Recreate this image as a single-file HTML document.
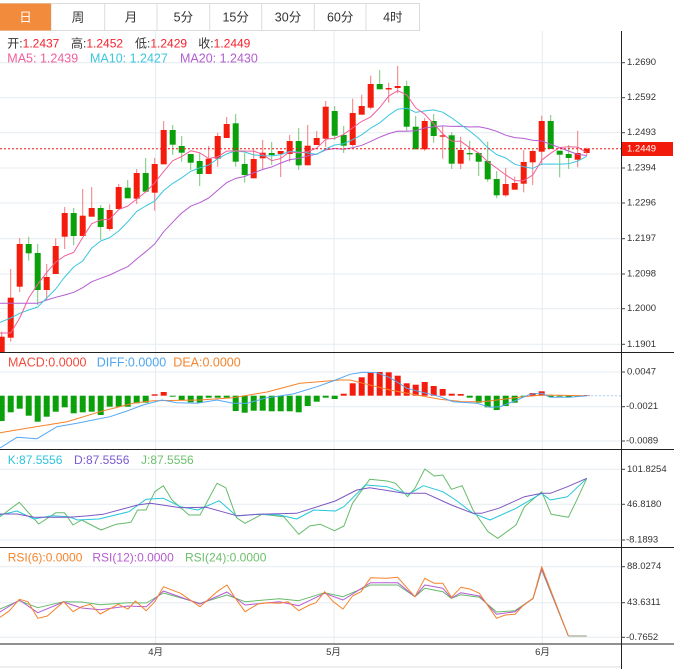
<!DOCTYPE html>
<html><head><meta charset="utf-8"><style>
html,body{margin:0;padding:0;background:#fff;}
svg{display:block;font-family:"Liberation Sans","Noto Sans CJK SC",sans-serif;}
</style></head><body>
<svg width="674" height="669" viewBox="0 0 674 669" xmlns="http://www.w3.org/2000/svg">
<rect x="0" y="0" width="674" height="669" fill="#fff"/>
<!-- tabs -->
<g stroke="#dcdcdc" stroke-width="1" fill="#fff">
<rect x="0.5" y="3.5" width="419" height="27"/>
<line x1="51" y1="3.5" x2="51" y2="30.5"/><line x1="104.7" y1="3.5" x2="104.7" y2="30.5"/><line x1="157" y1="3.5" x2="157" y2="30.5"/><line x1="209.7" y1="3.5" x2="209.7" y2="30.5"/><line x1="261.7" y1="3.5" x2="261.7" y2="30.5"/><line x1="314.3" y1="3.5" x2="314.3" y2="30.5"/><line x1="366" y1="3.5" x2="366" y2="30.5"/>
</g>
<rect x="0" y="3.5" width="51" height="27" fill="#f38b3c"/>
<g font-size="12.5" text-anchor="middle" dominant-baseline="central" fill="#333">
<text x="25.5" y="17.5" fill="#fff">日</text><text x="78" y="17.5">周</text><text x="131" y="17.5">月</text><text x="183.4" y="17.5">5分</text><text x="235.7" y="17.5">15分</text><text x="288" y="17.5">30分</text><text x="340.2" y="17.5">60分</text><text x="392.8" y="17.5">4时</text>
</g>
<!-- gridlines -->
<g stroke="#e4ecf1" stroke-width="1">
<line x1="0" y1="62.7" x2="621" y2="62.7"/><line x1="0" y1="97.7" x2="621" y2="97.7"/><line x1="0" y1="132.7" x2="621" y2="132.7"/><line x1="0" y1="168" x2="621" y2="168"/><line x1="0" y1="203" x2="621" y2="203"/><line x1="0" y1="238.7" x2="621" y2="238.7"/><line x1="0" y1="274" x2="621" y2="274"/><line x1="0" y1="308.7" x2="621" y2="308.7"/><line x1="0" y1="344.3" x2="621" y2="344.3"/>
<line x1="0" y1="372" x2="621" y2="372"/><line x1="0" y1="406.7" x2="621" y2="406.7"/><line x1="0" y1="441" x2="621" y2="441"/>
<line x1="0" y1="469.3" x2="621" y2="469.3"/><line x1="0" y1="504.3" x2="621" y2="504.3"/><line x1="0" y1="540" x2="621" y2="540"/>
<line x1="0" y1="566.7" x2="621" y2="566.7"/><line x1="0" y1="602.7" x2="621" y2="602.7"/><line x1="0" y1="637.3" x2="621" y2="637.3"/>
<line x1="155.6" y1="31" x2="155.6" y2="644"/><line x1="334" y1="31" x2="334" y2="644"/><line x1="542.3" y1="31" x2="542.3" y2="644"/>
</g>
<!-- info text -->
<g font-size="12" dominant-baseline="central">
<text x="7.3" y="43.3" fill="#333">开:<tspan fill="#f5222d">1.2437</tspan></text>
<text x="71" y="43.3" fill="#333">高:<tspan fill="#f5222d">1.2452</tspan></text>
<text x="135" y="43.3" fill="#333">低:<tspan fill="#f5222d">1.2429</tspan></text>
<text x="198.3" y="43.3" fill="#333">收:<tspan fill="#f5222d">1.2449</tspan></text>
<text x="7.3" y="58.3" fill="#f0609a" font-size="12.5">MA5: 1.2439</text>
<text x="90" y="58.3" fill="#3cc6e0" font-size="12.5">MA10: 1.2427</text>
<text x="180" y="58.3" fill="#b35dd0" font-size="12.5">MA20: 1.2430</text>
</g>
<!-- candles: red -->
<g stroke="#f47c7c" stroke-width="1">
<line x1="1.7" y1="331.7" x2="1.7" y2="352"/><line x1="10.7" y1="269" x2="10.7" y2="341.7"/><line x1="19.7" y1="238" x2="19.7" y2="292"/><line x1="46.7" y1="264" x2="46.7" y2="300"/><line x1="55.7" y1="238.3" x2="55.7" y2="274"/><line x1="64.7" y1="207" x2="64.7" y2="249"/><line x1="82.7" y1="189" x2="82.7" y2="236"/><line x1="91.7" y1="187" x2="91.7" y2="216.7"/><line x1="109.7" y1="204.3" x2="109.7" y2="230.7"/><line x1="118.7" y1="184" x2="118.7" y2="209"/><line x1="136.7" y1="169" x2="136.7" y2="204"/><line x1="154.7" y1="158" x2="154.7" y2="210.7"/><line x1="163.7" y1="121" x2="163.7" y2="164.3"/><line x1="208.7" y1="146" x2="208.7" y2="174"/><line x1="217.7" y1="132.7" x2="217.7" y2="166.7"/><line x1="226.7" y1="117" x2="226.7" y2="138"/><line x1="253.7" y1="149.3" x2="253.7" y2="178.3"/><line x1="262.7" y1="140" x2="262.7" y2="169"/><line x1="280.7" y1="151" x2="280.7" y2="177"/><line x1="289.7" y1="135" x2="289.7" y2="161.7"/><line x1="307.7" y1="125" x2="307.7" y2="165.3"/><line x1="316.7" y1="131" x2="316.7" y2="145"/><line x1="325.7" y1="101" x2="325.7" y2="147"/><line x1="352.7" y1="98.7" x2="352.7" y2="146.7"/><line x1="361.7" y1="94.7" x2="361.7" y2="114.7"/><line x1="370.7" y1="75.7" x2="370.7" y2="109.3"/><line x1="388.7" y1="82.7" x2="388.7" y2="102.7"/><line x1="397.7" y1="66" x2="397.7" y2="93.3"/><line x1="424.7" y1="118" x2="424.7" y2="150.7"/><line x1="442.7" y1="126.7" x2="442.7" y2="158.7"/><line x1="460.7" y1="136.7" x2="460.7" y2="169"/><line x1="505.7" y1="168" x2="505.7" y2="196.7"/><line x1="514.7" y1="176.7" x2="514.7" y2="189.7"/><line x1="523.7" y1="150" x2="523.7" y2="192.3"/><line x1="532.7" y1="150" x2="532.7" y2="185"/><line x1="541.7" y1="115.7" x2="541.7" y2="165"/><line x1="577.7" y1="130.7" x2="577.7" y2="167.3"/><line x1="586.7" y1="147.6" x2="586.7" y2="155.7"/>
</g>
<g fill="#f41c0c">
<rect x="-1.3" y="336.7" width="6" height="15.3"/><rect x="7.7" y="297.7" width="6" height="40"/><rect x="16.7" y="244" width="6" height="42.7"/><rect x="43.7" y="277" width="6" height="13"/><rect x="52.7" y="246" width="6" height="28"/><rect x="61.7" y="213" width="6" height="23.7"/><rect x="79.7" y="215.7" width="6" height="20.3"/><rect x="88.7" y="208" width="6" height="8.7"/><rect x="106.7" y="210" width="6" height="19"/><rect x="115.7" y="187" width="6" height="22"/><rect x="133.7" y="173" width="6" height="25.7"/><rect x="151.7" y="164" width="6" height="28.7"/><rect x="160.7" y="130" width="6" height="34.3"/><rect x="205.7" y="158.7" width="6" height="15.3"/><rect x="214.7" y="136" width="6" height="22.7"/><rect x="223.7" y="124" width="6" height="14"/><rect x="250.7" y="159" width="6" height="19.3"/><rect x="259.7" y="152.7" width="6" height="5.6"/><rect x="277.7" y="151" width="6" height="3"/><rect x="286.7" y="141" width="6" height="13"/><rect x="304.7" y="145.7" width="6" height="19.6"/><rect x="313.7" y="138" width="6" height="7"/><rect x="322.7" y="106.7" width="6" height="32"/><rect x="349.7" y="113" width="6" height="32"/><rect x="358.7" y="106" width="6" height="8.7"/><rect x="367.7" y="84" width="6" height="23.7"/><rect x="385.7" y="88" width="6" height="1.5"/><rect x="394.7" y="86" width="6" height="2"/><rect x="421.7" y="121" width="6" height="28.3"/><rect x="439.7" y="135.3" width="6" height="1.4"/><rect x="457.7" y="150" width="6" height="13.7"/><rect x="502.7" y="184" width="6" height="11.3"/><rect x="511.7" y="183" width="6" height="6.7"/><rect x="520.7" y="162" width="6" height="21.7"/><rect x="529.7" y="151" width="6" height="11.3"/><rect x="538.7" y="121" width="6" height="30.7"/><rect x="574.7" y="153" width="6" height="6.7"/><rect x="583.7" y="148.7" width="6" height="4.3"/>
</g>
<!-- candles: green -->
<g stroke="#76c876" stroke-width="1">
<line x1="28.7" y1="236.7" x2="28.7" y2="260.7"/><line x1="37.7" y1="244" x2="37.7" y2="305"/><line x1="73.7" y1="208" x2="73.7" y2="245.3"/><line x1="100.7" y1="205" x2="100.7" y2="240"/><line x1="127.7" y1="180" x2="127.7" y2="198.3"/><line x1="145.7" y1="158" x2="145.7" y2="191.7"/><line x1="172.7" y1="125" x2="172.7" y2="154.7"/><line x1="181.7" y1="136" x2="181.7" y2="161.7"/><line x1="190.7" y1="154" x2="190.7" y2="170"/><line x1="199.7" y1="152.7" x2="199.7" y2="186"/><line x1="235.7" y1="114" x2="235.7" y2="166.7"/><line x1="244.7" y1="153" x2="244.7" y2="182.7"/><line x1="271.7" y1="142" x2="271.7" y2="165"/><line x1="298.7" y1="128" x2="298.7" y2="170"/><line x1="334.7" y1="106" x2="334.7" y2="140"/><line x1="343.7" y1="126" x2="343.7" y2="153"/><line x1="379.7" y1="70" x2="379.7" y2="89.3"/><line x1="406.7" y1="80.7" x2="406.7" y2="131"/><line x1="415.7" y1="116" x2="415.7" y2="149.3"/><line x1="433.7" y1="114" x2="433.7" y2="142.7"/><line x1="451.7" y1="132" x2="451.7" y2="169"/><line x1="469.7" y1="140.7" x2="469.7" y2="160.7"/><line x1="478.7" y1="153" x2="478.7" y2="176"/><line x1="487.7" y1="141.7" x2="487.7" y2="181.7"/><line x1="496.7" y1="171" x2="496.7" y2="198.3"/><line x1="550.7" y1="115" x2="550.7" y2="149"/><line x1="559.7" y1="150.7" x2="559.7" y2="177.3"/><line x1="568.7" y1="145" x2="568.7" y2="169"/>
</g>
<g fill="#0aa00a">
<rect x="25.7" y="244" width="6" height="9.3"/><rect x="34.7" y="253" width="6" height="37"/><rect x="70.7" y="213" width="6" height="23"/><rect x="97.7" y="208" width="6" height="19"/><rect x="124.7" y="187.7" width="6" height="10.6"/><rect x="142.7" y="173" width="6" height="18.7"/><rect x="169.7" y="130" width="6" height="14.7"/><rect x="178.7" y="146" width="6" height="6.7"/><rect x="187.7" y="154" width="6" height="8.7"/><rect x="196.7" y="161" width="6" height="13"/><rect x="232.7" y="123.3" width="6" height="38.4"/><rect x="241.7" y="164" width="6" height="11"/><rect x="268.7" y="153" width="6" height="2"/><rect x="295.7" y="141" width="6" height="24.3"/><rect x="331.7" y="111" width="6" height="24.7"/><rect x="340.7" y="135" width="6" height="10.7"/><rect x="376.7" y="84" width="6" height="5.3"/><rect x="403.7" y="86" width="6" height="40.7"/><rect x="412.7" y="126.7" width="6" height="22.6"/><rect x="430.7" y="121" width="6" height="15"/><rect x="448.7" y="135.3" width="6" height="28.4"/><rect x="466.7" y="153" width="6" height="1.4"/><rect x="475.7" y="153" width="6" height="8.7"/><rect x="484.7" y="161" width="6" height="18.3"/><rect x="493.7" y="179" width="6" height="16.3"/><rect x="547.7" y="121" width="6" height="28"/><rect x="556.7" y="150.7" width="6" height="4"/><rect x="565.7" y="154" width="6" height="4"/>
</g>
<!-- MA lines -->
<g fill="none" stroke-width="1" stroke-linejoin="round">
<polyline stroke="#b35dd0" points="0,303.3 1.7,303.3 10.7,303.3 19.7,303.3 28.7,303.3 37.7,303.3 46.7,300 55.7,297.3 64.7,295 73.7,292.3 82.7,287.7 91.7,281.7 100.7,278.3 109.7,275 118.7,270.7 127.7,266.7 136.7,259 145.7,251.7 154.7,244 163.7,231.7 172.7,222.2 181.7,213 190.7,206.2 199.7,202.7 208.7,198 217.7,190.3 226.7,182.6 235.7,178.4 244.7,176.5 253.7,172.7 262.7,169.5 271.7,166.9 280.7,163.1 289.7,159.6 298.7,158.5 307.7,155.9 316.7,154.1 325.7,149.9 334.7,148.5 343.7,149.3 352.7,147.7 361.7,145.3 370.7,141.4 379.7,137.2 388.7,133.6 397.7,131.1 406.7,131.3 415.7,130.7 424.7,128 433.7,126.8 442.7,125.9 451.7,126.4 460.7,126.3 469.7,127 478.7,126.8 487.7,128.5 496.7,131.3 505.7,135.2 514.7,137.6 523.7,138.4 532.7,140.3 541.7,141 550.7,144.3 559.7,147.6 568.7,151.1 577.7,154.4 586.7,155.5"/>
<polyline stroke="#3cc6e0" points="0,322.5 1.7,321.7 10.7,318 19.7,313.3 28.7,310 37.7,307 46.7,298 55.7,289 64.7,277 73.7,267 82.7,260.9 91.7,248.1 100.7,241 109.7,237.6 118.7,231 127.7,221.8 136.7,211.4 145.7,206 154.7,201.1 163.7,190.5 172.7,183.4 181.7,177.8 190.7,171.4 199.7,167.8 208.7,165 217.7,158.8 226.7,153.9 235.7,150.9 244.7,152 253.7,154.9 262.7,155.7 271.7,155.9 280.7,154.7 289.7,151.4 298.7,152.1 307.7,153 316.7,154.4 325.7,148.9 334.7,145 343.7,143.7 352.7,139.7 361.7,134.8 370.7,128.1 379.7,122.9 388.7,115.2 397.7,109.2 406.7,108.1 415.7,112.4 424.7,110.9 433.7,109.9 442.7,112.2 451.7,117.9 460.7,124.5 469.7,131 478.7,138.4 487.7,147.7 496.7,154.6 505.7,158 514.7,164.2 523.7,166.8 532.7,168.4 541.7,164.1 550.7,164 559.7,164.1 568.7,163.7 577.7,161.1 586.7,156.4"/>
<polyline stroke="#f0609a" points="0,333 1.7,333 10.7,333 19.7,318 28.7,298 37.7,284.3 46.7,272.4 55.7,262.1 64.7,255.9 73.7,252.4 82.7,237.5 91.7,223.7 100.7,219.9 109.7,219.3 118.7,209.5 127.7,206.1 136.7,199.1 145.7,192 154.7,182.8 163.7,171.4 172.7,160.7 181.7,156.6 190.7,150.8 199.7,152.8 208.7,158.6 217.7,156.8 226.7,151.1 235.7,150.9 244.7,151.1 253.7,151.1 262.7,154.5 271.7,160.7 280.7,158.5 289.7,151.7 298.7,153 307.7,151.6 316.7,148.2 325.7,139.3 334.7,138.3 343.7,134.4 352.7,127.8 361.7,121.4 370.7,116.9 379.7,107.6 388.7,96.1 397.7,90.7 406.7,94.8 415.7,107.9 424.7,114.2 433.7,123.8 442.7,133.7 451.7,141.1 460.7,141.2 469.7,147.8 478.7,152.9 487.7,161.7 496.7,168.1 505.7,174.9 514.7,180.7 523.7,180.7 532.7,175.1 541.7,160.2 550.7,153.2 559.7,147.5 568.7,146.7 577.7,147.1 586.7,152.7"/>
</g>
<!-- last price line -->
<line x1="0" y1="148.7" x2="621" y2="148.7" stroke="#f21010" stroke-width="1" stroke-dasharray="2,2"/>
<!-- MACD bars -->
<g fill="#0aa00a">
<rect x="-1.3" y="395.7" width="6" height="25.3"/><rect x="7.7" y="395.7" width="6" height="16.6"/><rect x="16.7" y="395.7" width="6" height="13"/><rect x="25.7" y="395.7" width="6" height="20"/><rect x="34.7" y="395.7" width="6" height="26"/><rect x="43.7" y="395.7" width="6" height="21"/><rect x="52.7" y="395.7" width="6" height="16"/><rect x="61.7" y="395.7" width="6" height="11.6"/><rect x="70.7" y="395.7" width="6" height="17.6"/><rect x="79.7" y="395.7" width="6" height="16.6"/><rect x="88.7" y="395.7" width="6" height="16"/><rect x="97.7" y="395.7" width="6" height="19.3"/><rect x="106.7" y="395.7" width="6" height="11"/><rect x="115.7" y="395.7" width="6" height="11"/><rect x="124.7" y="395.7" width="6" height="11"/><rect x="133.7" y="395.7" width="6" height="7.6"/><rect x="142.7" y="395.7" width="6" height="7"/><rect x="169.7" y="395.7" width="6" height="1"/><rect x="178.7" y="395.7" width="6" height="4.3"/><rect x="187.7" y="395.7" width="6" height="6.6"/><rect x="196.7" y="395.7" width="6" height="7"/><rect x="205.7" y="395.7" width="6" height="2"/><rect x="214.7" y="395.7" width="6" height="2"/><rect x="223.7" y="395.7" width="6" height="2"/><rect x="232.7" y="395.7" width="6" height="15.3"/><rect x="241.7" y="395.7" width="6" height="17"/><rect x="250.7" y="395.7" width="6" height="15"/><rect x="259.7" y="395.7" width="6" height="15"/><rect x="268.7" y="395.7" width="6" height="15.6"/><rect x="277.7" y="395.7" width="6" height="15.6"/><rect x="286.7" y="395.7" width="6" height="15.6"/><rect x="295.7" y="395.7" width="6" height="16.6"/><rect x="304.7" y="395.7" width="6" height="10.3"/><rect x="313.7" y="395.7" width="6" height="6"/><rect x="322.7" y="395.7" width="6" height="2"/><rect x="331.7" y="395.7" width="6" height="3.3"/><rect x="466.7" y="395.7" width="6" height="2"/><rect x="475.7" y="395.7" width="6" height="7"/><rect x="484.7" y="395.7" width="6" height="11.6"/><rect x="493.7" y="395.7" width="6" height="14.3"/><rect x="502.7" y="395.7" width="6" height="10.3"/><rect x="511.7" y="395.7" width="6" height="7"/><rect x="520.7" y="395.7" width="6" height="1"/><rect x="547.7" y="395.7" width="6" height="1.3"/><rect x="556.7" y="395.7" width="6" height="0.8"/><rect x="565.7" y="395.7" width="6" height="1.3"/><rect x="574.7" y="395.7" width="6" height="0.6"/>
</g>
<g fill="#f41c0c">
<rect x="151.7" y="394.3" width="6" height="1.4"/><rect x="160.7" y="392" width="6" height="3.7"/><rect x="340.7" y="393.7" width="6" height="2"/><rect x="349.7" y="383.3" width="6" height="12.4"/><rect x="358.7" y="377.3" width="6" height="18.4"/><rect x="367.7" y="372.3" width="6" height="23.4"/><rect x="376.7" y="372" width="6" height="23.7"/><rect x="385.7" y="372.3" width="6" height="23.4"/><rect x="394.7" y="375.7" width="6" height="20"/><rect x="403.7" y="383.3" width="6" height="12.4"/><rect x="412.7" y="384.7" width="6" height="11"/><rect x="421.7" y="382" width="6" height="13.7"/><rect x="430.7" y="386" width="6" height="9.7"/><rect x="439.7" y="389" width="6" height="6.7"/><rect x="448.7" y="393.7" width="6" height="2"/><rect x="457.7" y="394" width="6" height="1.7"/><rect x="529.7" y="393" width="6" height="2.7"/><rect x="538.7" y="391.3" width="6" height="4.4"/><rect x="583.7" y="395" width="6" height="0.7"/>
</g>
<!-- MACD lines -->
<g fill="none" stroke-width="1">
<polyline stroke="#f5822a" points="0,432.7 33,427.3 67,421.7 100,411.7 133,403.3 153,400.7 200,400 233,397.7 267,392 300,383.3 340,380 350,380 363,383.3 390,390 413,394.3 440,399.3 463,401.7 483,401.7 503,399.3 523,396.7 543,395 587,395.7"/>
<polyline stroke="#55a8f5" points="0,448 17,437.3 27,438 37,438.7 57,426.7 77,423.3 93,420 110,416.7 127,411 143,405 162,400 177,402.7 197,403.3 217,400 233,403.3 247,403.3 267,397.7 293,394 317,386.7 333,381 350,374.3 363,372.3 377,372.7 390,377.7 407,388.3 420,391.7 440,396.7 453,401.7 477,403.3 490,407.3 500,406.7 517,400 530,394.3 542,393.3 550,397.3 570,397.3 587,395.7"/>
<line x1="587" y1="395.7" x2="621" y2="395.7" stroke="#a8d0f2" stroke-dasharray="2,2"/>
</g>
<!-- KDJ lines -->
<g fill="none" stroke-width="1" stroke-linejoin="round">
<polyline stroke="#66bb6a" points="0,516.7 19.3,502.3 38.7,524 55.9,512.7 64.5,512.7 73,525 81.7,520 101,530 116,524.3 131,522.3 137.6,510 146,510 154.8,491.7 163.4,485.7 172,500 189,515 200,515 217,483.3 225.7,487.7 236.5,517.7 245,523.3 262,514.3 283.7,516.7 298.8,534.3 309.5,526 320.3,524.3 334.5,530.7 343.9,526 352.5,503.3 369.7,479.3 387,481 395.5,483.3 407.6,496.7 414.9,488.3 424.8,469 434.2,476 442.8,475 451.4,489.3 462.2,485.7 473,510 488,531.7 497.8,538.3 516,525 524.5,506.7 541.7,491.7 551.2,514.3 568.4,517.3 576,501.7 586.8,478.3"/>
<polyline stroke="#26c6da" points="0,515 17,511 34,519 51.6,515.7 69,516.7 77.4,520 98.9,519 129,511.7 146,499.3 163.4,498.3 180.6,506.7 197.8,510 219.3,500.7 236.5,516 258,514.3 279.4,515 296.6,519 313.8,510 335.3,511 343.9,506.7 365.4,485 387,486.7 408.4,494.3 423.5,485.7 442.8,491.7 455.7,500 473,513.3 490,520 516,508.3 541.7,493.3 550.3,500 567.5,496.7 586.8,478.3"/>
<polyline stroke="#7e57c2" points="0,514 17,514 34,517.3 69,517.3 86,516 103,514.3 137.6,505 150.5,503.3 180.6,507.7 206.4,507.3 236.5,515.7 258,514.3 296.6,513.3 335.3,501 356.8,490 369.7,487.7 404,493.3 425.6,493.3 451.4,505 472.9,513.3 481.5,513.3 498.7,508.3 524.5,496.7 541.7,493.3 550.3,493.3 567.5,486.7 586.8,478.3"/>
</g>
<!-- RSI lines -->
<g fill="none" stroke-width="1" stroke-linejoin="round">
<polyline stroke="#66bb6a" points="0,609 19.3,600.7 37.8,607.7 63.6,601.7 81.7,602 100.2,604.7 128,602.7 146.2,603 163.4,593 200,603.3 227,595 245,601.7 279.4,598.7 298.8,600.7 324.6,592.7 343,596.7 370.6,585 397.7,585 414.9,596.7 424.8,588.3 442.8,591.7 451.4,598.3 460.9,594.7 479.4,597.3 496.6,612 515,610.7 533.1,598.3 541.7,570 568.4,636"/>
<polyline stroke="#b45cd2" points="0,612 19.3,600 37.8,612.7 63.6,602 81.7,608 100.2,609.7 128,606 146.2,606.7 163.4,591 200,604 227,592 245,605 279.4,601.7 298.8,605.7 324.6,593.3 343,600 370.6,582.7 397.7,582.7 414.9,596.7 424.8,585 442.8,588.3 451.4,598 460.9,592.7 479.4,596 496.6,614.3 515,611.7 533.1,598.3 541.7,568.7 568.4,636"/>
<polyline stroke="#f5822a" points="0,617.3 9.5,610.7 19.3,599.3 28,601.7 37.8,618.3 47.3,616 63.6,601.7 73,611.7 81.7,606.7 90.3,604.3 100.2,614 118.2,604.3 128,609 135.4,601 146.2,610.7 154.8,601.7 163.4,586.7 180.6,593.3 200,606.7 217,591.7 227,585 234.3,596.7 245,611.7 258,604 266.5,602.7 279.4,603.3 288,601.7 298.8,610.7 309.5,605 316,602.7 324.6,591.7 333.2,601.7 343,609 352.5,596 361.1,591.7 370.6,577.7 387,578.3 397.7,577.3 414.9,596.7 424.8,578.3 434.2,583.3 442.8,583.3 451.4,597.3 460.9,587.3 470.8,589.3 479.4,593.3 496.6,618.3 505.2,615 515,614.3 523.6,605 533.1,598.3 541.7,566.7 568.4,636"/>
<line x1="568.4" y1="636" x2="586.8" y2="636" stroke="#b4b8a4" stroke-width="1.5"/>
</g>
<!-- panel labels -->
<g font-size="12" dominant-baseline="central">
<text x="8" y="362.7" fill="#f24a3c" font-size="12.5">MACD:0.0000</text>
<text x="96.7" y="362.7" fill="#4ca6f2" font-size="12.5">DIFF:0.0000</text>
<text x="173.3" y="362.7" fill="#f5842c" font-size="12.5">DEA:0.0000</text>
<text x="7.7" y="460" fill="#2ec4dc">K:87.5556</text>
<text x="74" y="460" fill="#7a5ad2">D:87.5556</text>
<text x="141" y="460" fill="#6cc06c">J:87.5556</text>
<text x="7.7" y="557.3" fill="#f5842c">RSI(6):0.0000</text>
<text x="92.4" y="557.3" fill="#b45cd2">RSI(12):0.0000</text>
<text x="185" y="557.3" fill="#6cc06c">RSI(24):0.0000</text>
</g>
<!-- panel borders and axis -->
<g stroke="#222" stroke-width="1">
<line x1="0" y1="352.5" x2="674" y2="352.5"/>
<line x1="0" y1="449.5" x2="674" y2="449.5"/>
<line x1="0" y1="547.5" x2="674" y2="547.5"/>
<line x1="0" y1="644" x2="674" y2="644"/>
<line x1="621.5" y1="31" x2="621.5" y2="669"/>
</g>
<line x1="0" y1="667" x2="621" y2="667" stroke="#dedede" stroke-width="1"/>
<!-- ticks -->
<g stroke="#444" stroke-width="1">
<line x1="621" y1="62.7" x2="625" y2="62.7"/><line x1="621" y1="97.7" x2="625" y2="97.7"/><line x1="621" y1="132.7" x2="625" y2="132.7"/><line x1="621" y1="168" x2="625" y2="168"/><line x1="621" y1="203" x2="625" y2="203"/><line x1="621" y1="238.7" x2="625" y2="238.7"/><line x1="621" y1="274" x2="625" y2="274"/><line x1="621" y1="308.7" x2="625" y2="308.7"/><line x1="621" y1="344.3" x2="625" y2="344.3"/>
<line x1="621" y1="372" x2="625" y2="372"/><line x1="621" y1="406.7" x2="625" y2="406.7"/><line x1="621" y1="441" x2="625" y2="441"/>
<line x1="621" y1="469.3" x2="625" y2="469.3"/><line x1="621" y1="504.3" x2="625" y2="504.3"/><line x1="621" y1="540" x2="625" y2="540"/>
<line x1="621" y1="566.7" x2="625" y2="566.7"/><line x1="621" y1="602.7" x2="625" y2="602.7"/><line x1="621" y1="637.3" x2="625" y2="637.3"/>
</g>
<g font-size="9.5" fill="#333" dominant-baseline="central">
<text x="627" y="62.7">1.2690</text><text x="627" y="97.7">1.2592</text><text x="627" y="132.7">1.2493</text><text x="627" y="168">1.2394</text><text x="627" y="203">1.2296</text><text x="627" y="238.7">1.2197</text><text x="627" y="274">1.2098</text><text x="627" y="308.7">1.2000</text><text x="627" y="344.3">1.1901</text>
<text x="627" y="372">0.0047</text><text x="626" y="406.7">-0.0021</text><text x="626" y="441">-0.0089</text>
<text x="627" y="469.3">101.8254</text><text x="627" y="504.3">46.8180</text><text x="626" y="540">-8.1893</text>
<text x="627" y="566.7">88.0274</text><text x="627" y="602.7">43.6311</text><text x="626" y="637.3">-0.7652</text>
</g>
<rect x="622" y="142" width="51" height="14" fill="#f21a0a"/>
<text x="627" y="149.2" font-size="9.5" fill="#fff" dominant-baseline="central">1.2449</text>
<!-- x axis labels -->
<g font-size="9.5" fill="#333" text-anchor="middle" dominant-baseline="central">
<text x="155.6" y="652.7">4月</text><text x="333.5" y="652.7">5月</text><text x="542.5" y="652.7">6月</text>
</g>
</svg>
</body></html>
